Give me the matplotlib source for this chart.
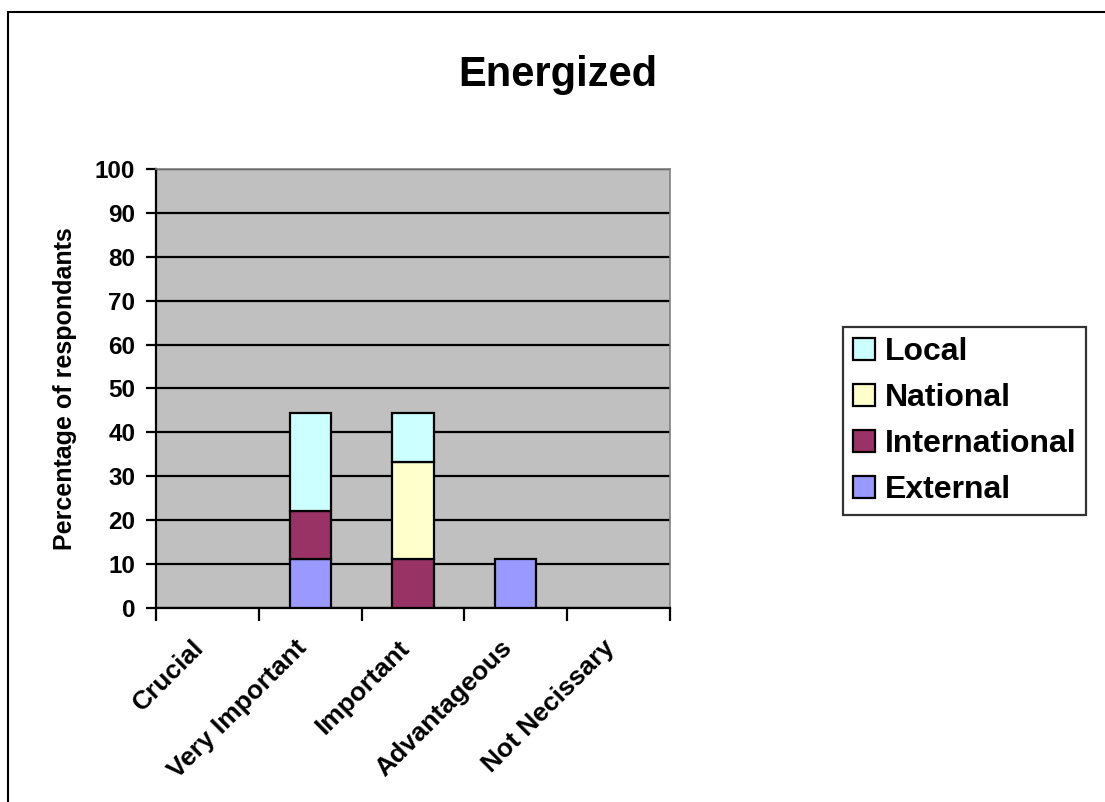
import numpy as np
from matplotlib import pyplot as plt
from matplotlib.patches import Rectangle
from matplotlib.transforms import ScaledTranslation

plt.rcParams['font.family'] = ['Liberation Sans', 'DejaVu Sans']
plt.rcParams['font.weight'] = 'bold'

# Dados
categorias = ["Crucial", "Very Important", "Important", "Advantageous", "Not Necissary"]
external = [0.0, 11.1, 0.0, 11.1, 0.0]
international = [0.0, 11.1, 11.1, 0.0, 0.0]
national = [0.0, 0.0, 22.2, 0.0, 0.0]
local = [0.0, 22.2, 11.1, 0.0, 0.0]

series = [
    ("External", external, "#9999FF"),
    ("International", international, "#993366"),
    ("National", national, "#FFFFCC"),
    ("Local", local, "#CCFFFF"),
]

fig = plt.figure(figsize=(11.05, 8.02), dpi=100)
ax = fig.add_axes([156 / 1105, 1 - 608 / 802, 514 / 1105, 439 / 802])
ax.set_facecolor("#C0C0C0")

x = np.arange(len(categorias))
base = np.zeros(len(categorias))
handles = []
for nome, vals, cor in series:
    vals = np.array(vals)
    ok = vals > 0  # barras vazias não são desenhadas
    b = ax.bar(x[ok], vals[ok], 0.4, bottom=base[ok], color=cor, edgecolor="black",
               linewidth=1.6, label=nome, zorder=3)
    handles.append(b)
    base = base + vals

ax.set_xlim(-0.5, len(categorias) - 0.5)
ax.set_ylim(0, 100)
ax.set_yticks(np.arange(0, 101, 10))
ax.yaxis.grid(True, color="black", linewidth=1.6, zorder=1)
ax.set_axisbelow(True)

# ticks nas divisas das categorias, rótulos no centro
ax.set_xticks(np.arange(-0.5, len(categorias), 1.0))
ax.set_xticklabels([])
ax.set_xticks(x, minor=True)
ax.set_xticklabels(categorias, minor=True, rotation=45, ha="right", va="top",
                   rotation_mode="anchor", fontsize=19, fontweight="bold")
ax.tick_params(axis="x", which="minor", length=0, pad=20)
ax.tick_params(axis="x", which="major", length=9, width=1.6, direction="out")
ax.tick_params(axis="y", length=7, width=1.6, labelsize=17.5, pad=8)
desloc = ScaledTranslation(-16 / 100, 0, fig.dpi_scale_trans)
for lbl in ax.get_xticklabels(minor=True):
    lbl.set_transform(lbl.get_transform() + desloc)

for lado in ["left", "bottom"]:
    ax.spines[lado].set_linewidth(1.6)
    ax.spines[lado].set_color("black")
for lado in ["top", "right"]:
    ax.spines[lado].set_linewidth(1.2)
    ax.spines[lado].set_color("#808080")

ax.set_ylabel("Percentage of respondants", fontsize=18, fontweight="bold", labelpad=13)

fig.text(558 / 1105, 1 - 75 / 802, "Energized", fontsize=30, fontweight="bold",
         ha="center", va="center")

leg = ax.legend(handles[::-1], [s[0] for s in series][::-1],
                loc="center left", bbox_to_anchor=(843 / 1105, 1 - 421 / 802),
                bbox_transform=fig.transFigure, fontsize=23, frameon=True,
                fancybox=False, edgecolor="black", handlelength=0.7,
                handleheight=0.7, handletextpad=0.3, labelspacing=0.5,
                borderpad=0.3, borderaxespad=0)
leg.get_frame().set_linewidth(1.6)
for t in leg.get_texts():
    t.set_fontweight("bold")

# moldura externa
fig.patches.append(Rectangle((8 / 1105, -0.1), 2.0, 1.1 - 12 / 802,
                             transform=fig.transFigure, fill=False,
                             edgecolor="black", linewidth=1.5))

fig.savefig("out.png", dpi=100)
